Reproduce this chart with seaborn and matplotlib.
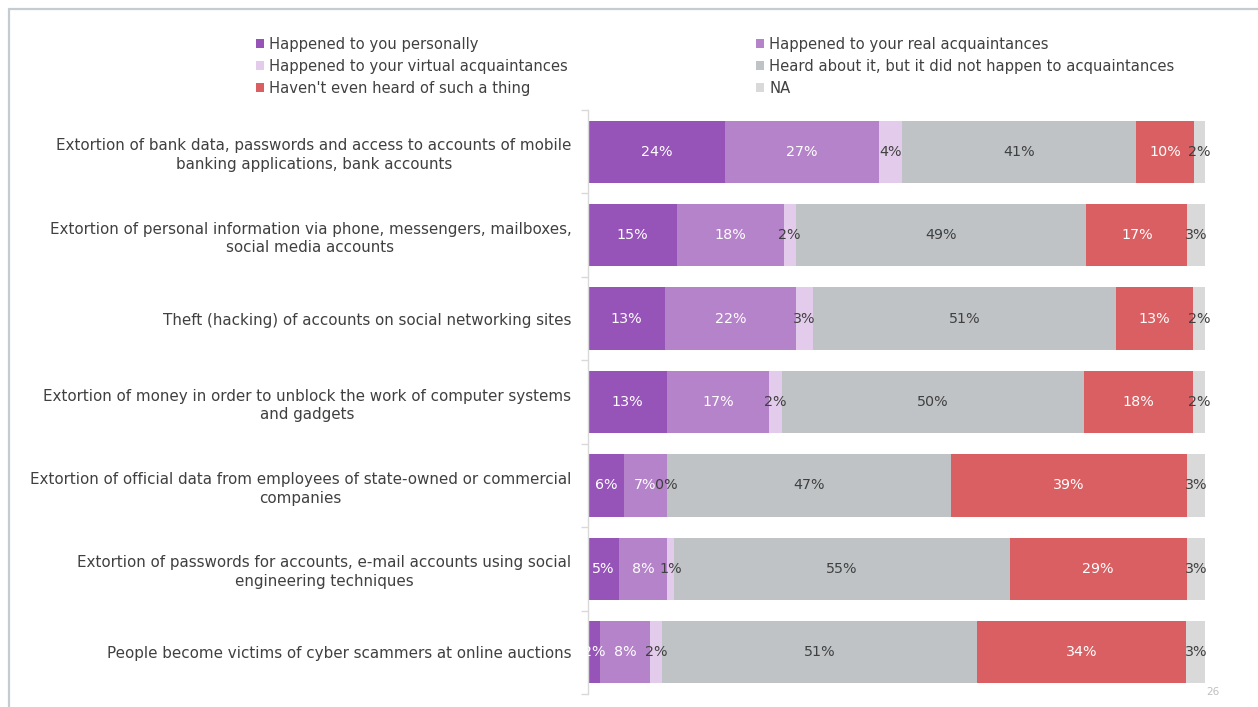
import matplotlib
matplotlib.use("Agg")
import matplotlib.pyplot as plt
from matplotlib.patches import Patch
from matplotlib.lines import Line2D
from matplotlib.font_manager import FontProperties
import numpy as np
import pandas as pd
import seaborn as sns

# ---- data -------------------------------------------------------------
categories = [
    "Extortion of bank data, passwords and access to accounts of mobile\nbanking applications, bank accounts",
    "Extortion of personal information via phone, messengers, mailboxes,\nsocial media accounts",
    "Theft (hacking) of accounts on social networking sites",
    "Extortion of money in order to unblock the work of computer systems\nand gadgets",
    "Extortion of official data from employees of state-owned or commercial\ncompanies",
    "Extortion of passwords for accounts, e-mail accounts using social\nengineering techniques",
    "People become victims of cyber scammers at online auctions",
]
series_names = [
    "Happened to you personally",
    "Happened to your real acquaintances",
    "Happened to your virtual acquaintances",
    "Heard about it, but it did not happen to acquaintances",
    "Haven't even heard of such a thing",
    "NA",
]
personally = [24, 15, 13, 13, 6, 5, 2]
real_acq = [27, 18, 22, 17, 7, 8, 8]
virtual_acq = [4, 2, 3, 2, 0, 1, 2]
heard_only = [41, 49, 51, 50, 47, 55, 51]
never_heard = [10, 17, 13, 18, 39, 29, 34]
na_share = [2, 3, 2, 2, 3, 3, 3]

colors = ["#9654B8", "#B583C9", "#E3CCEB", "#BFC3C6", "#DA5F62", "#D9D9D9"]
label_colors = ["white", "white", "#404040", "#404040", "white", "#404040"]

# ---- prepare 100%-stacked values --------------------------------------
values = np.array([personally, real_acq, virtual_acq, heard_only, never_heard, na_share], dtype=float)
totals = values.sum(axis=0)
shares = values / totals * 100.0
cum = np.cumsum(shares, axis=0)
lefts = cum - shares

sns.set_theme(style="white")
plt.rcParams["font.family"] = ["DejaVu Sans"]

fig = plt.figure(figsize=(12.58, 7.07), dpi=100)
ax = fig.add_axes([588 / 1258, 1 - 694 / 707, (1205 - 588) / 1258, (694 - 110) / 707])

# stacked bars: draw cumulative totals from the outermost segment inward
for i in range(len(series_names) - 1, -1, -1):
    df = pd.DataFrame({"category": categories, "cum": cum[i]})
    sns.barplot(data=df, x="cum", y="category", orient="h", color=colors[i],
                saturation=1, width=0.745, linewidth=0, edgecolor="none", ax=ax)

# value labels centred in each segment
for i in range(len(series_names)):
    for j in range(len(categories)):
        xc = lefts[i, j] + shares[i, j] / 2
        ax.text(xc, j, f"{int(values[i, j])}%", ha="center", va="center",
                fontsize=10.3, color=label_colors[i], clip_on=(i == 0), zorder=5)

ax.set_xlim(0, 100)
ax.set_ylim(6.5, -0.5)
ax.set_xlabel("")
ax.set_ylabel("")
ax.set_xticks([])
for side in ["top", "right", "bottom"]:
    ax.spines[side].set_visible(False)
ax.spines["left"].set_color("#D9D9D9")
ax.spines["left"].set_linewidth(1.0)

ax.set_yticks(range(len(categories)))
ax.set_yticklabels(categories, fontsize=10.9, color="#404040", linespacing=1.3)
for lab in ax.get_yticklabels():
    lab.set_multialignment("center")
ax.tick_params(axis="y", which="major", length=0, pad=12)
ax.set_yticks(np.arange(-0.5, 7.0, 1.0), minor=True)
ax.tick_params(axis="y", which="minor", length=5, width=1, color="#D9D9D9", left=True)

# legend in two columns
handles = [Patch(facecolor=c, edgecolor="none") for c in colors]
leg_font = FontProperties(family=["DejaVu Sans"], size=10.6)
col_positions = [(256 / 1258, 1 - 37 / 707), (756 / 1258, 1 - 37 / 707)]
for k, idx in enumerate([[0, 2, 4], [1, 3, 5]]):
    lg = fig.legend([handles[m] for m in idx], [series_names[m] for m in idx],
                    loc="upper left", bbox_to_anchor=col_positions[k], frameon=False,
                    borderpad=0, borderaxespad=0, handlelength=0.55, handleheight=0.55,
                    handletextpad=0.35, labelspacing=0.48, prop=leg_font)
    for t in lg.get_texts():
        t.set_color("#404040")

# slide frame and page number
fig.add_artist(Line2D([8.5 / 1258, 8.5 / 1258], [-0.01, 1 - 8.5 / 707],
                      transform=fig.transFigure, color="#C5CBD1", linewidth=1.6))
fig.add_artist(Line2D([8.5 / 1258, 1.01], [1 - 8.5 / 707, 1 - 8.5 / 707],
                      transform=fig.transFigure, color="#C5CBD1", linewidth=1.6))
fig.text(1213 / 1258, 1 - 692 / 707, "26", fontsize=7.5, color="#BFBFBF",
         ha="center", va="center")

fig.savefig("out.png", dpi=100, facecolor="white")
